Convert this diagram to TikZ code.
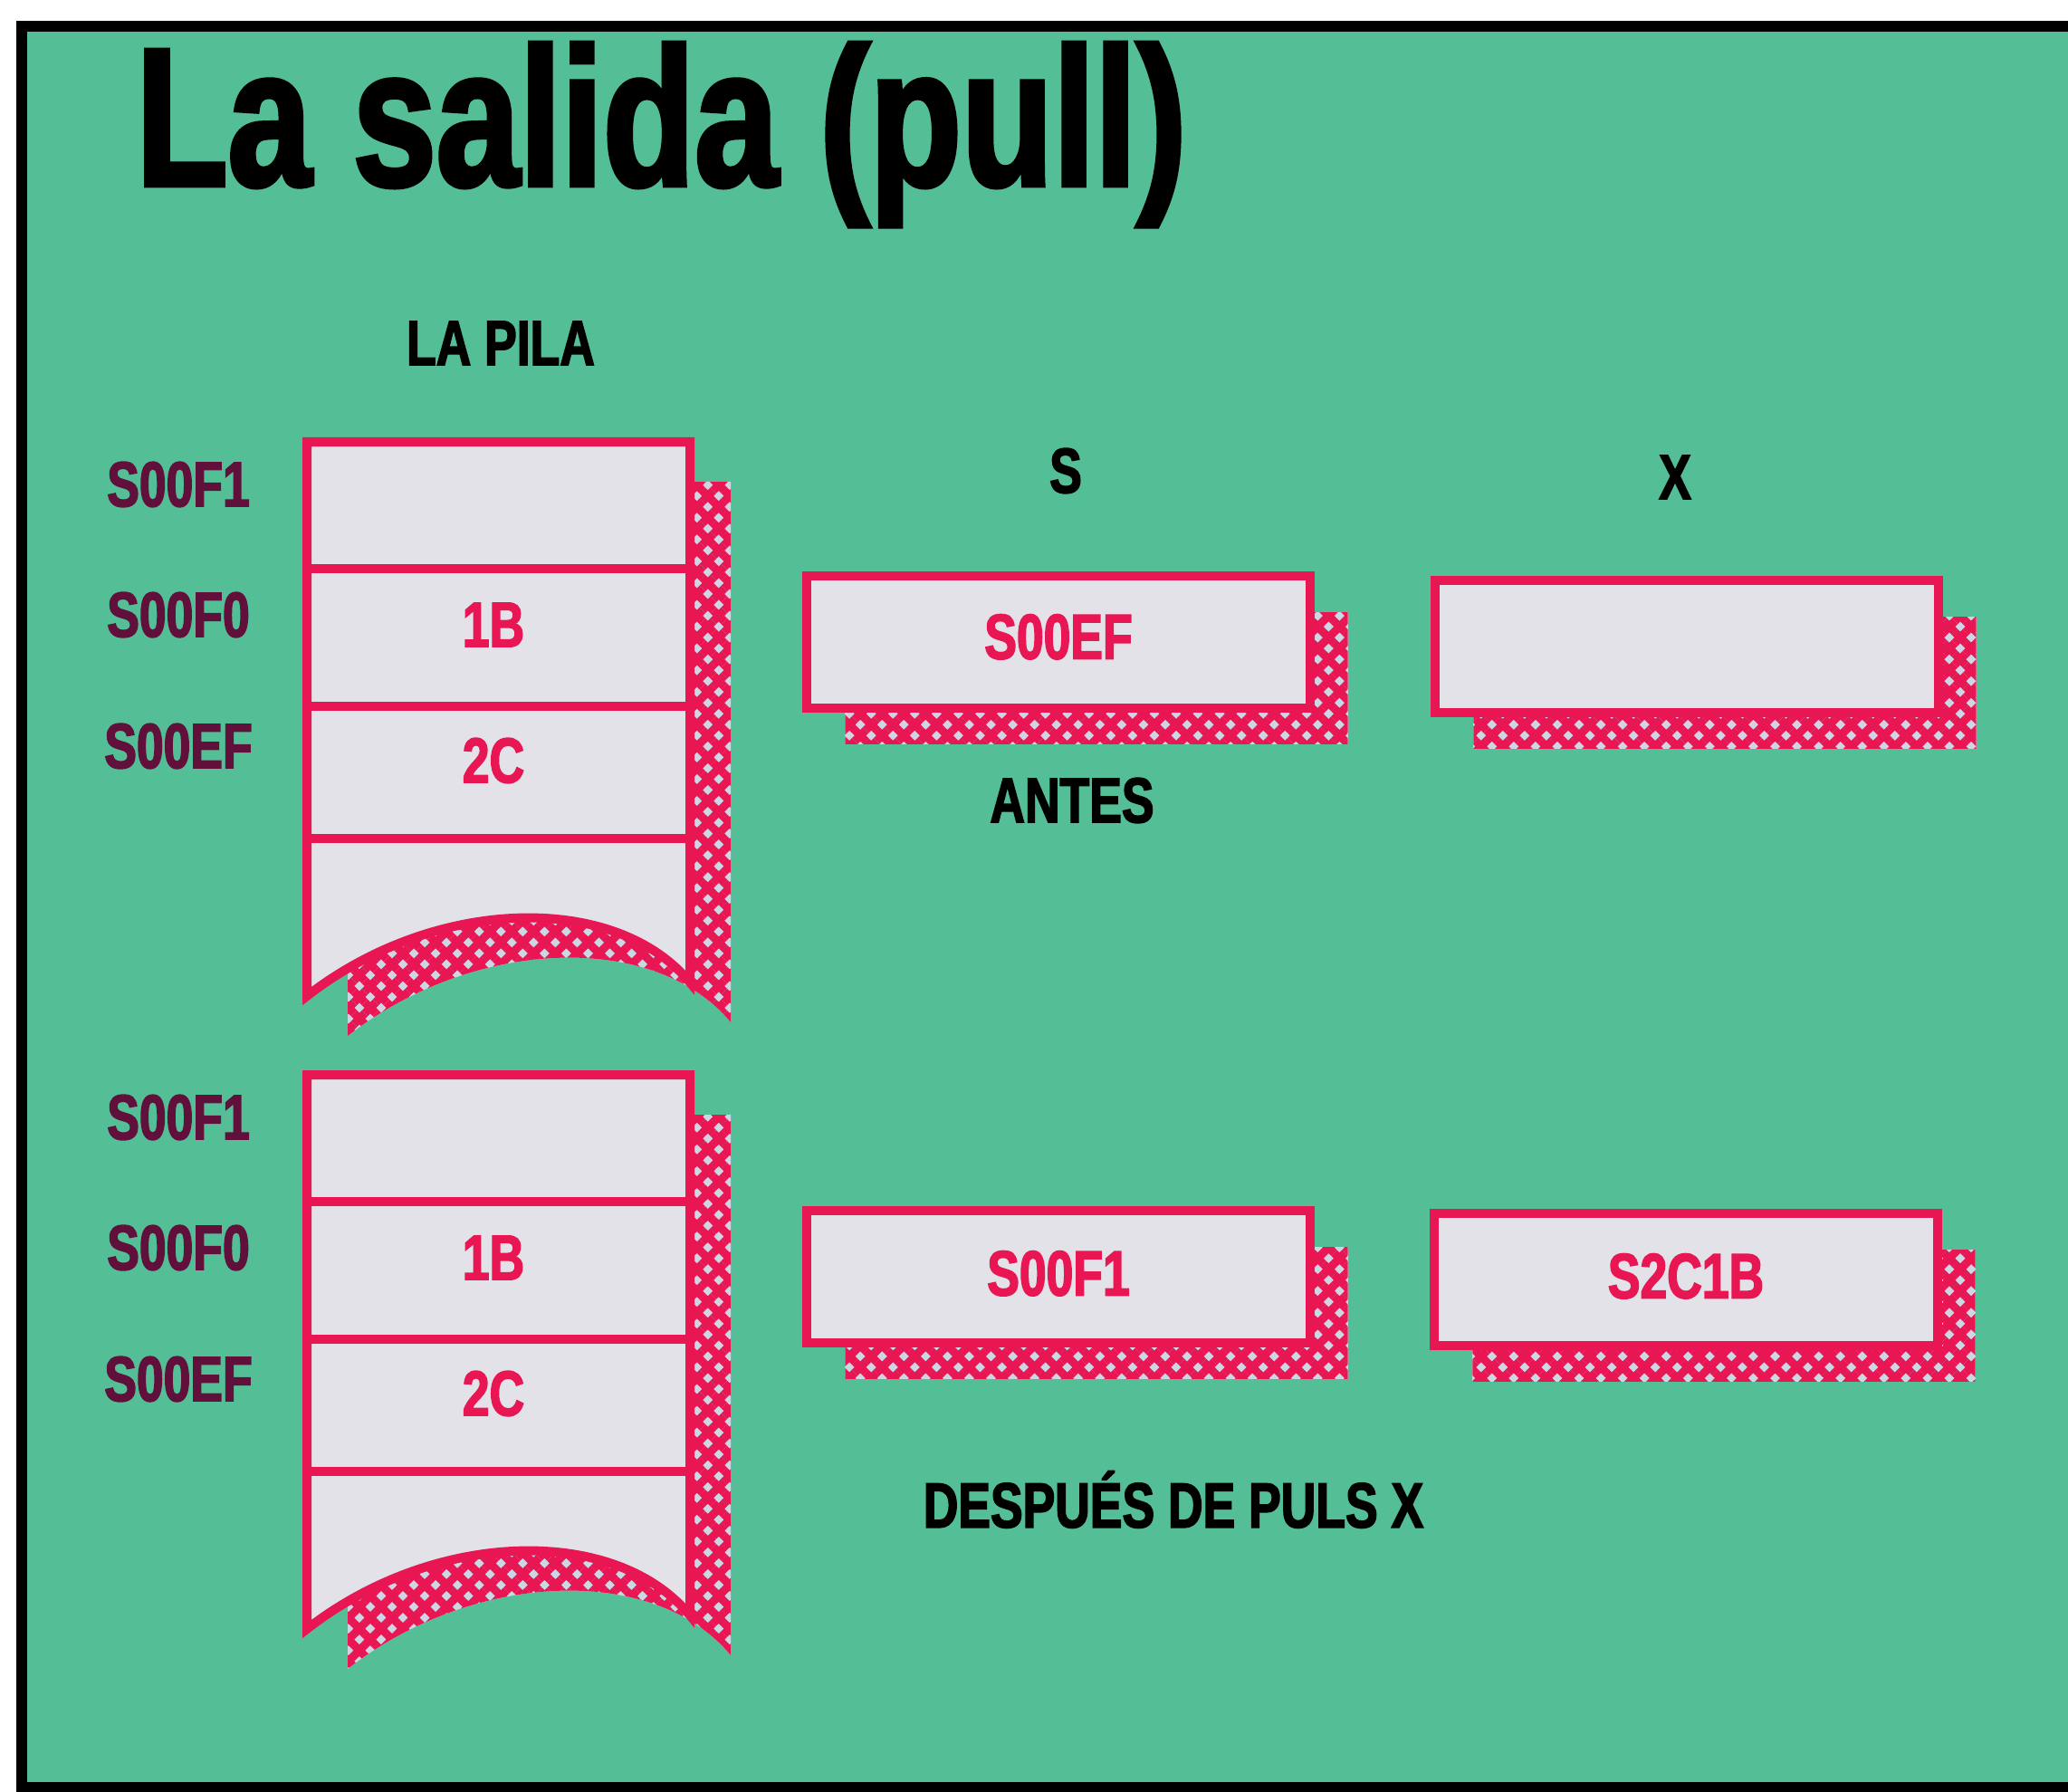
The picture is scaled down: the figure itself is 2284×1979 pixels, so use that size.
\documentclass[tikz,border=0pt]{standalone}
\usepackage{fontspec}
\setmainfont{Liberation Sans}
\newfontfamily\condfont[FakeStretch=0.76,BoldFeatures={FakeBold=2.2}]{Liberation Sans}
\usetikzlibrary{patterns.meta,shadows}

\definecolor{panelgreen}{RGB}{84,190,150}
\definecolor{boxred}{RGB}{232,22,82}
\definecolor{boxgrey}{RGB}{226,226,232}
\definecolor{addrmaroon}{RGB}{96,16,58}
\definecolor{meshbg}{RGB}{205,215,228}

\tikzset{
  mesh/.style={pattern={Hatch[angle=45,distance=0.17cm,line width=0.09cm]}, pattern color=boxred},
  redline/.style={draw=boxred, line width=0.1cm},
  addr/.style={text=addrmaroon, font=\condfont\bfseries\fontsize{20}{20}\selectfont},
  cell/.style={text=boxred, font=\condfont\bfseries\fontsize{20}{20}\selectfont},
  caption/.style={text=black, font=\condfont\bfseries\fontsize{20}{20}\selectfont},
  regbox/.style={redline, fill=boxgrey, minimum width=5.55cm, minimum height=1.45cm,
    inner sep=0pt, cell,
    general shadow={shadow xshift=0.42cm, shadow yshift=-0.40cm, fill=meshbg},
    general shadow={shadow xshift=0.42cm, shadow yshift=-0.40cm, mesh}},
}

\begin{document}
\begin{tikzpicture}[x=0.01cm, y=-0.01cm]
  \useasboundingbox (0,0) rectangle (2284,1979);
  % panel
  \fill[panelgreen] (24,29) rectangle (2284,1974);
  \draw[line width=0.12cm] (2284,29) -- (24,29) -- (24,1974) -- (2284,1974);
  \node[anchor=base west, font=\condfont\bfseries\fontsize{62}{62}\selectfont] (title) at (138,205) {La salida (pull)};

  % the stack, before and after
  \node[caption] (pila) at (553,379) {LA PILA};
  \foreach \k/\dy in {1/0, 2/699} {
    \begin{scope}[shift={(0,\dy)}]
      \fill[meshbg] (384,532) -- (807,532) -- (807,1129) .. controls (725,1029) and (525,1034) .. (384,1144) -- cycle;
      \fill[mesh] (384,532) -- (807,532) -- (807,1129) .. controls (725,1029) and (525,1034) .. (384,1144) -- cycle;
      \draw[redline, fill=boxgrey] (339,488) -- (762,488) -- (762,1085) .. controls (680,985) and (480,990) .. (339,1100) -- cycle;
      \draw[redline] (339,628) -- (762,628);
      \draw[redline] (339,780) -- (762,780);
      \draw[redline] (339,926) -- (762,926);
      \node[addr] (adr\k f1) at (197,535) {S00F1};
      \node[addr] (adr\k f0) at (197,679) {S00F0};
      \node[addr] (adr\k ef) at (197,824) {S00EF};
      \node[cell] (cell\k b) at (545,690) {1B};
      \node[cell] (cell\k c) at (545,840) {2C};
    \end{scope}
  }

  % registers
  \node[caption] (slbl) at (1177,520) {S};
  \node[caption] (xlbl) at (1850,527) {X};
  \node[regbox] (sreg1) at (1169,709) {\raisebox{0.12cm}{S00EF}};
  \node[regbox] (xreg1) at (1863,714) {};
  \node[caption] (antes) at (1184,884) {ANTES};

  \node[regbox] (sreg2) at (1169,1410) {\raisebox{0.08cm}{S00F1}};
  \node[regbox] (xreg2) at (1862,1413) {\raisebox{0.08cm}{S2C1B}};
  \node[caption] (despues) at (1296,1656) {DESPUÉS DE PULS X};
\end{tikzpicture}
\end{document}
